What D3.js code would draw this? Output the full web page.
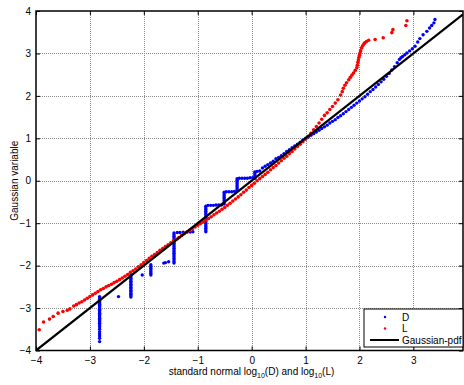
<!DOCTYPE html>
<html>
<head>
<meta charset="utf-8">
<script src="https://cdn.jsdelivr.net/npm/d3@7"></script>
<style>
  body { margin: 0; background: #fff; }
  svg { display: block; font-family: "Liberation Sans", Arial, sans-serif; }
</style>
</head>
<body>
<div id="chart"></div>
<script>
// Axis ticks
const xTicks = [-4, -3, -2, -1, 0, 1, 2, 3];
const yTicks = [-4, -3, -2, -1, 0, 1, 2, 3, 4];

// Gaussian-pdf reference line end points
const refX = [-4, 3.92];

// L series (red)
const lX = [-3.94, -3.86, -3.75, -3.68, -3.59, -3.50, -3.42, -3.37, -3.30, -3.25, -3.20, -3.15, -3.10, -3.05,
  -3.00, -2.95, -2.90, -2.85, -2.80, -2.75, -2.70, -2.65, -2.60, -2.55, -2.50, -2.45, -2.40, -2.35, -2.30,
  -2.25, -2.20, -2.15, -2.10, -2.05, -2.00, -1.95, -1.90, -1.85, -1.80, -1.75, -1.70, -1.65, -1.60, -1.55,
  -1.50, -1.45, -1.40, -1.35, -1.30, -1.25, -1.20, -1.15, -1.10, -1.05, -1.00, -0.95, -0.90, -0.85, -0.80,
  -0.75, -0.70, -0.65, -0.60, -0.55, -0.50, -0.45, -0.40, -0.35, -0.30, -0.25, -0.20, -0.15, -0.10, -0.05,
  0.00, 0.05, 0.10, 0.15, 0.20, 0.25, 0.30, 0.35, 0.40, 0.45, 0.50, 0.55, 0.60, 0.65, 0.70, 0.75, 0.80,
  0.85, 0.90, 0.95, 1.00, 1.05, 1.10, 1.15, 1.20, 1.25, 1.30, 1.35, 1.40, 1.45, 1.50, 1.55, 1.60, 1.65,
  1.68, 1.70, 1.73, 1.76, 1.80, 1.83, 1.86, 1.89, 1.92, 1.95, 1.96, 1.97, 1.98, 1.99, 2.00, 2.01, 2.02,
  2.04, 2.06, 2.08, 2.10, 2.13, 2.17, 2.29, 2.44, 2.60, 2.62, 2.86, 2.88];
const lY = [-3.51, -3.33, -3.26, -3.20, -3.12, -3.08, -3.05, -3.02, -2.95, -2.92, -2.88, -2.85, -2.81, -2.77,
  -2.73, -2.69, -2.65, -2.61, -2.57, -2.54, -2.50, -2.47, -2.44, -2.40, -2.37, -2.33, -2.29, -2.25, -2.21,
  -2.16, -2.12, -2.08, -2.03, -1.98, -1.93, -1.88, -1.83, -1.78, -1.74, -1.69, -1.64, -1.60, -1.55, -1.51,
  -1.46, -1.42, -1.38, -1.34, -1.29, -1.25, -1.21, -1.17, -1.13, -1.09, -1.05, -1.01, -0.97, -0.93, -0.89,
  -0.85, -0.80, -0.76, -0.72, -0.67, -0.63, -0.58, -0.53, -0.48, -0.43, -0.38, -0.33, -0.27, -0.22, -0.16,
  -0.11, -0.06, 0.00, 0.05, 0.10, 0.15, 0.20, 0.26, 0.31, 0.36, 0.42, 0.47, 0.53, 0.58, 0.64, 0.69, 0.75,
  0.81, 0.86, 0.92, 0.98, 1.05, 1.12, 1.20, 1.28, 1.36, 1.45, 1.54, 1.60, 1.68, 1.75, 1.83, 1.91, 2.02,
  2.10, 2.18, 2.25, 2.31, 2.38, 2.44, 2.49, 2.54, 2.60, 2.66, 2.72, 2.79, 2.85, 2.91, 2.96, 3.01, 3.06,
  3.13, 3.18, 3.22, 3.25, 3.28, 3.31, 3.33, 3.37, 3.49, 3.56, 3.66, 3.77];

// D series (blue): lower tail with tied values (vertical runs)
const dTailX = [-2.82, -2.82, -2.82, -2.82, -2.82, -2.82, -2.82, -2.82, -2.82, -2.82, -2.82, -2.82, -2.82, -2.82,
  -2.82, -2.82, -2.82, -2.82, -2.82, -2.82, -2.82, -2.82, -2.82, -2.82, -2.82, -2.82, -2.82, -2.82, -2.82, -2.82,
  -2.47,
  -2.24, -2.24, -2.24, -2.24, -2.24, -2.24, -2.24, -2.24, -2.24, -2.24, -2.24, -2.24, -2.24, -2.24, -2.24, -2.24,
  -2.03,
  -1.87, -1.87, -1.87, -1.87, -1.87, -1.87, -1.87,
  -1.63, -1.60, -1.54,
  -1.44, -1.44, -1.44, -1.44, -1.44, -1.44, -1.44, -1.44, -1.44, -1.44, -1.44, -1.44, -1.44, -1.44, -1.44, -1.44,
  -1.44, -1.44, -1.44,
  -1.38, -1.33, -1.27, -1.20, -1.14, -1.09];
const dTailY = [-2.73, -2.76, -2.79, -2.82, -2.85, -2.88, -2.91, -2.94, -2.97, -3.00, -3.03, -3.06, -3.09, -3.12,
  -3.15, -3.18, -3.21, -3.24, -3.27, -3.30, -3.33, -3.36, -3.40, -3.44, -3.50, -3.56, -3.61, -3.66, -3.71, -3.79,
  -2.73,
  -2.22, -2.26, -2.30, -2.33, -2.37, -2.40, -2.44, -2.47, -2.51, -2.54, -2.58, -2.61, -2.65, -2.68, -2.71, -2.74,
  -2.22,
  -1.98, -2.02, -2.06, -2.10, -2.14, -2.18, -2.22,
  -1.94, -1.93, -1.91,
  -1.23, -1.27, -1.31, -1.35, -1.39, -1.43, -1.47, -1.51, -1.55, -1.59, -1.63, -1.67, -1.71, -1.75, -1.79, -1.83,
  -1.87, -1.91, -1.94,
  -1.22, -1.22, -1.21, -1.21, -1.21, -1.20];

// D series (blue): step region around zero
const dStepX = [-0.85, -0.85, -0.85, -0.85, -0.85, -0.85, -0.85, -0.85, -0.85, -0.85, -0.85, -0.85, -0.85, -0.85,
  -0.85, -0.85,
  -0.81, -0.76, -0.71, -0.66, -0.61, -0.56,
  -0.51, -0.51, -0.51, -0.51, -0.51, -0.51, -0.51, -0.51,
  -0.47, -0.42, -0.37, -0.32,
  -0.27, -0.27, -0.27, -0.27, -0.27, -0.27, -0.27, -0.27,
  -0.23, -0.18, -0.13, -0.08, -0.03, 0.02,
  0.06, 0.06, 0.06, 0.06, 0.06];
const dStepY = [-0.60, -0.64, -0.68, -0.72, -0.76, -0.80, -0.84, -0.88, -0.92, -0.96, -1.00, -1.04, -1.08, -1.12,
  -1.16, -1.20,
  -0.58, -0.58, -0.58, -0.57, -0.57, -0.57,
  -0.27, -0.31, -0.35, -0.39, -0.43, -0.47, -0.51, -0.55,
  -0.26, -0.26, -0.26, -0.25,
  0.05, 0.01, -0.03, -0.07, -0.11, -0.15, -0.19, -0.23,
  0.06, 0.06, 0.06, 0.06, 0.07, 0.07,
  0.06, 0.10, 0.14, 0.18, 0.21];

// D series (blue): upper part
const dUpX = [0.10, 0.15, 0.20, 0.25, 0.30, 0.35, 0.40, 0.45, 0.50, 0.55, 0.60, 0.65, 0.70, 0.75, 0.80, 0.85,
  0.90, 0.95, 1.00, 1.05, 1.10, 1.15, 1.20, 1.25, 1.30, 1.35, 1.40, 1.45, 1.50, 1.55, 1.60, 1.65, 1.70, 1.75,
  1.80, 1.85, 1.90, 1.95, 2.00, 2.05, 2.10, 2.15, 2.20, 2.25, 2.30, 2.35, 2.40, 2.45, 2.50, 2.55, 2.60, 2.65,
  2.70, 2.74, 2.77, 2.80, 2.84, 2.88, 2.93, 2.98, 3.03, 3.08, 3.12, 3.18, 3.25, 3.30, 3.34, 3.38, 3.40];
const dUpY = [0.22, 0.23, 0.30, 0.34, 0.38, 0.42, 0.46, 0.52, 0.55, 0.59, 0.64, 0.69, 0.73, 0.78, 0.82, 0.86,
  0.91, 0.96, 1.00, 1.03, 1.07, 1.11, 1.15, 1.19, 1.23, 1.27, 1.31, 1.36, 1.40, 1.44, 1.49, 1.53, 1.58, 1.63,
  1.68, 1.73, 1.78, 1.83, 1.88, 1.93, 1.98, 2.04, 2.10, 2.15, 2.21, 2.27, 2.33, 2.39, 2.46, 2.53, 2.61, 2.69,
  2.78, 2.86, 2.90, 2.93, 2.97, 3.01, 3.06, 3.11, 3.17, 3.27, 3.35, 3.44, 3.52, 3.60, 3.66, 3.72, 3.80];

const width = 464, height = 385;
const margin = { left: 36, right: 1, top: 11, bottom: 34.5 };

const svg = d3.select('#chart').append('svg')
  .attr('width', width)
  .attr('height', height);

svg.append('rect').attr('width', width).attr('height', height).attr('fill', '#fff');

const x = d3.scaleLinear().domain([-4, 3.92]).range([margin.left, width - margin.right]);
const y = d3.scaleLinear().domain([-4, 4]).range([height - margin.bottom, margin.top]);

const x0 = x.range()[0], x1 = x.range()[1];
const y0 = y.range()[0], y1 = y.range()[1];

svg.append('clipPath').attr('id', 'plot-clip')
  .append('rect')
  .attr('x', x0).attr('y', y1)
  .attr('width', x1 - x0).attr('height', y0 - y1);

// dotted grid
const grid = svg.append('g')
  .attr('stroke', '#8a8a8a')
  .attr('stroke-width', 1)
  .attr('stroke-dasharray', '1,1');

grid.selectAll('.gx')
  .data(xTicks.filter(d => d > -4))
  .enter().append('line')
  .attr('x1', d => Math.round(x(d)) + 0.5).attr('x2', d => Math.round(x(d)) + 0.5)
  .attr('y1', y1).attr('y2', y0);

grid.selectAll('.gy')
  .data(yTicks.filter(d => d > -4 && d < 4))
  .enter().append('line')
  .attr('y1', d => Math.round(y(d)) + 0.5).attr('y2', d => Math.round(y(d)) + 0.5)
  .attr('x1', x0).attr('x2', x1);

// data
const plot = svg.append('g').attr('clip-path', 'url(#plot-clip)');

const dX = dTailX.concat(dStepX, dUpX);
const dY = dTailY.concat(dStepY, dUpY);

plot.append('g').attr('fill', '#0000ff')
  .selectAll('circle')
  .data(dX.map((v, i) => [v, dY[i]]))
  .enter().append('circle')
  .attr('cx', d => x(d[0]))
  .attr('cy', d => y(d[1]))
  .attr('r', 1.7);

plot.append('g').attr('fill', '#ff0000')
  .selectAll('circle')
  .data(lX.map((v, i) => [v, lY[i]]))
  .enter().append('circle')
  .attr('cx', d => x(d[0]))
  .attr('cy', d => y(d[1]))
  .attr('r', 1.8);

const line = d3.line().x(d => x(d)).y(d => y(d));
plot.append('path')
  .datum(refX)
  .attr('d', line)
  .attr('fill', 'none')
  .attr('stroke', '#000')
  .attr('stroke-width', 2.2);

// axes, ticks pointing inward
const axisFont = g => g.selectAll('text').attr('font-size', 10).attr('fill', '#000')
  .attr('font-family', '"Liberation Sans", Arial, sans-serif');

svg.append('g')
  .attr('transform', `translate(0,${y0})`)
  .call(d3.axisBottom(x).tickValues(xTicks).tickSize(-4).tickPadding(6).tickFormat(d3.format('d')))
  .call(g => g.select('.domain').remove())
  .call(axisFont);

svg.append('g')
  .attr('transform', `translate(0,${y1})`)
  .call(d3.axisTop(x).tickValues(xTicks).tickSize(-4).tickFormat(''))
  .call(g => g.select('.domain').remove());

svg.append('g')
  .attr('transform', `translate(${x0},0)`)
  .call(d3.axisLeft(y).tickValues(yTicks).tickSize(-4).tickPadding(5).tickFormat(d3.format('d')))
  .call(g => g.select('.domain').remove())
  .call(axisFont);

svg.append('g')
  .attr('transform', `translate(${x1},0)`)
  .call(d3.axisRight(y).tickValues(yTicks).tickSize(-4).tickFormat(''))
  .call(g => g.select('.domain').remove());

svg.selectAll('.tick line').attr('stroke', '#000').attr('stroke-width', 1);

// box
svg.append('rect')
  .attr('x', x0).attr('y', y1)
  .attr('width', x1 - x0).attr('height', y0 - y1)
  .attr('fill', 'none')
  .attr('stroke', '#000')
  .attr('stroke-width', 1.5);

// axis labels
const xl = svg.append('text')
  .attr('x', (x0 + x1) / 2 + 2)
  .attr('y', 375)
  .attr('text-anchor', 'middle')
  .attr('font-size', 10);
xl.append('tspan').text('standard normal log');
xl.append('tspan').text('10').attr('font-size', 7).attr('dy', 3);
xl.append('tspan').text('(D) and log').attr('dy', -3);
xl.append('tspan').text('10').attr('font-size', 7).attr('dy', 3);
xl.append('tspan').text('(L)').attr('dy', -3);

svg.append('text')
  .attr('transform', `translate(18,${(y0 + y1) / 2}) rotate(-90)`)
  .attr('text-anchor', 'middle')
  .attr('font-size', 10)
  .text('Gaussian variable');

// legend
const legend = svg.append('g').attr('transform', 'translate(364,309)');
legend.append('rect')
  .attr('width', 99).attr('height', 38)
  .attr('fill', '#fff')
  .attr('stroke', '#000')
  .attr('stroke-width', 1);

const legendItems = [
  { label: 'D', color: '#0000ff', type: 'dot' },
  { label: 'L', color: '#ff0000', type: 'dot' },
  { label: 'Gaussian-pdf', color: '#000', type: 'line' }
];

const li = legend.selectAll('.li')
  .data(legendItems)
  .enter().append('g')
  .attr('transform', (d, i) => `translate(0,${8 + i * 11.5})`);

li.filter(d => d.type === 'dot').append('circle')
  .attr('cx', 21).attr('cy', 0).attr('r', 1.2)
  .attr('fill', d => d.color);

li.filter(d => d.type === 'line').append('line')
  .attr('x1', 6).attr('x2', 35).attr('y1', 0).attr('y2', 0)
  .attr('stroke', d => d.color).attr('stroke-width', 2);

li.append('text')
  .attr('x', 38).attr('y', 3.5)
  .attr('font-size', 10)
  .text(d => d.label);
</script>
</body>
</html>
